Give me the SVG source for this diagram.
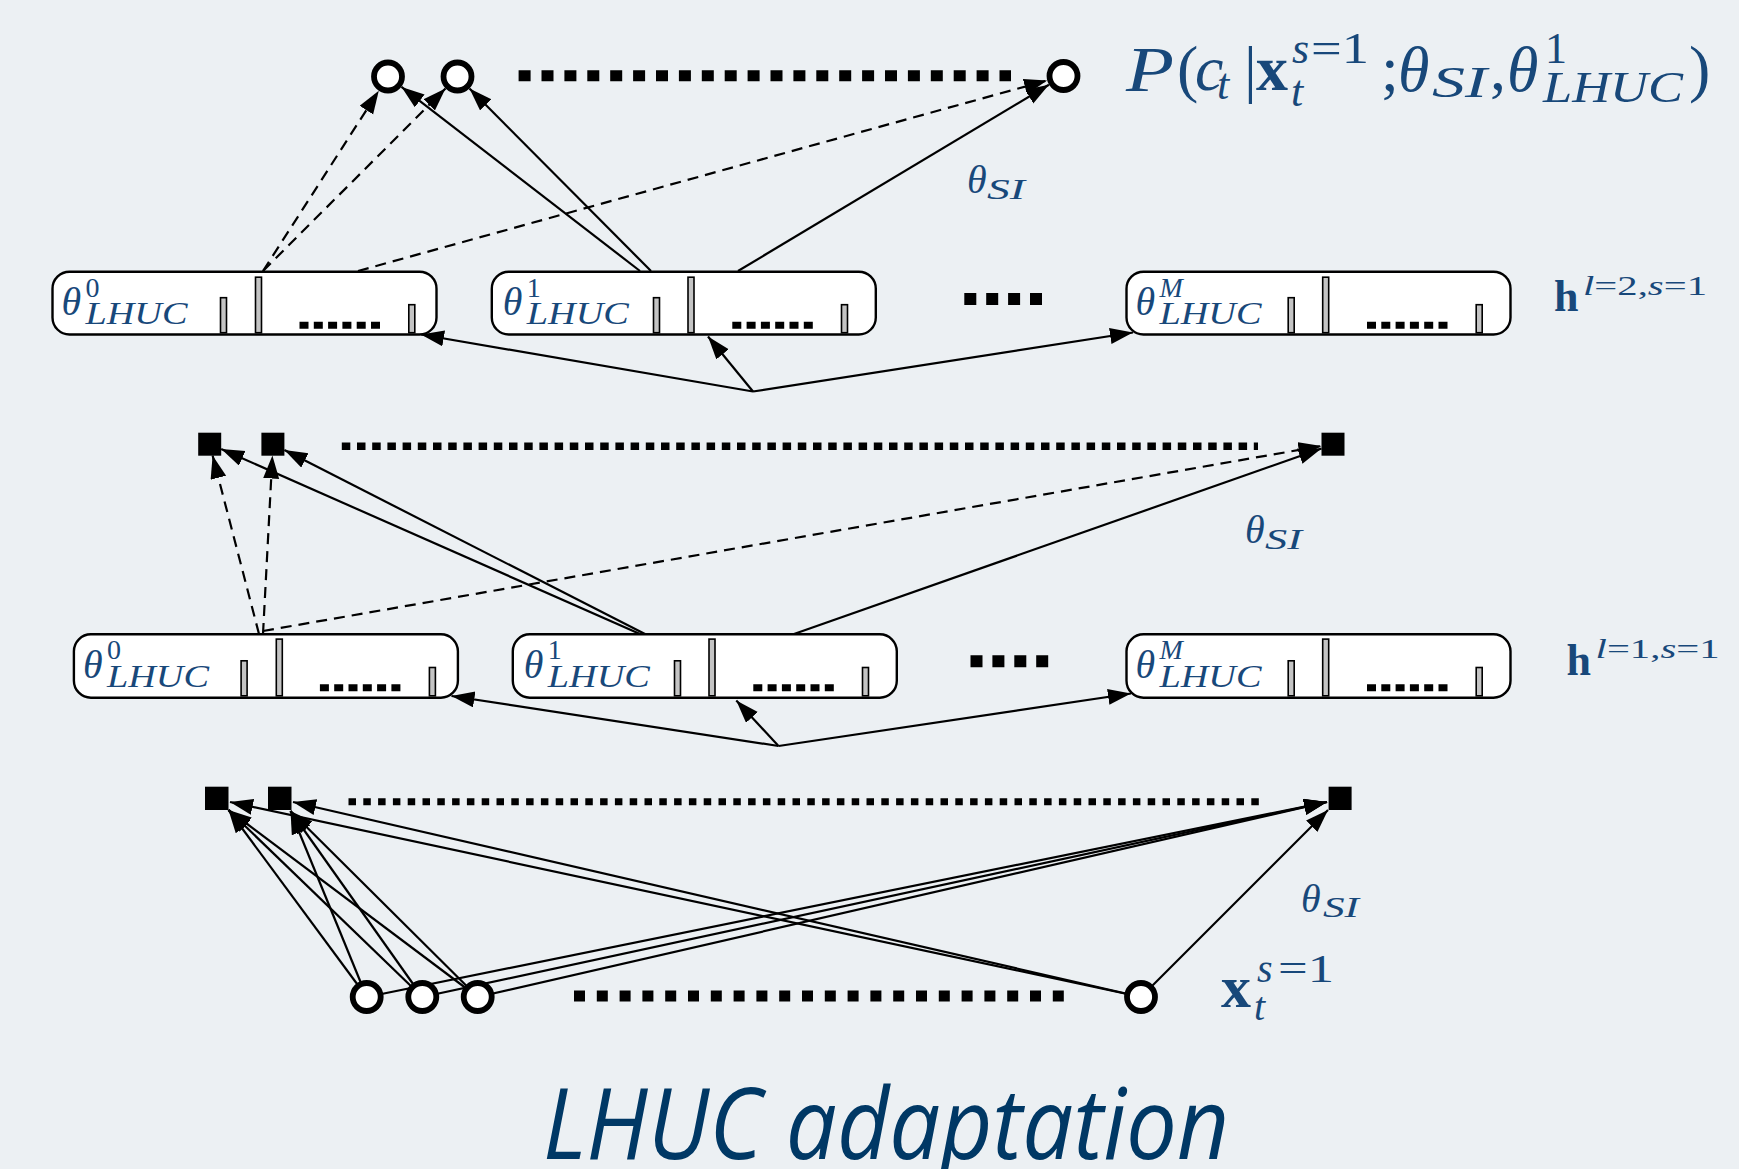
<svg xmlns="http://www.w3.org/2000/svg" width="1739" height="1169" viewBox="0 0 1739 1169">
<style>
.bg{fill:#ecf0f3}
.ln{stroke:#000;stroke-width:2.2;fill:none;marker-end:url(#ah)}
.dash{stroke-dasharray:11 7}
.circ{fill:#fff;stroke:#000;stroke-width:5.8}
.sq{fill:#000}
.box{fill:#fff;stroke:#000;stroke-width:2.4}
.bar{fill:#c4c4c4;stroke:#000;stroke-width:1.6}
.dots{stroke:#000;fill:none}
.m{font-family:"Liberation Serif","DejaVu Serif",serif;fill:#18487a}
.it{font-style:italic}
.up{font-style:normal}
.bf{font-weight:bold}
.title{font-family:"Open Sans","Liberation Sans",sans-serif;font-style:italic;fill:#003865}
</style>
<defs>
<marker id="ah" markerUnits="userSpaceOnUse" markerWidth="26" markerHeight="18" refX="23" refY="8" orient="auto"><path d="M0,0 L23,8 L0,16 z" fill="#000"/></marker>
</defs>
<rect class="bg" x="0" y="0" width="1739" height="1169"/>

<g id="connectors">
<line class="ln dash" x1="263" y1="271" x2="378.8" y2="90.8"/>
<line class="ln dash" x1="263" y1="271" x2="445.5" y2="88.5"/>
<line class="ln dash" x1="358" y1="271" x2="1047.1" y2="80.5"/>
<line class="ln" x1="640" y1="271" x2="401.5" y2="86.9"/>
<line class="ln" x1="651" y1="271" x2="469.5" y2="88.5"/>
<line class="ln" x1="738" y1="271" x2="1048.9" y2="84.7"/>
<line class="ln" x1="753" y1="391.5" x2="421" y2="334.5"/>
<line class="ln" x1="753" y1="391.5" x2="708" y2="336.5"/>
<line class="ln" x1="753" y1="391.5" x2="1133" y2="332.5"/>
<line class="ln dash" x1="259" y1="634" x2="212.6" y2="455.5"/>
<line class="ln dash" x1="263" y1="634" x2="272.4" y2="455.5"/>
<line class="ln dash" x1="263" y1="631" x2="1321.5" y2="446"/>
<line class="ln" x1="640" y1="634" x2="221.2" y2="449"/>
<line class="ln" x1="645" y1="634" x2="284.4" y2="450"/>
<line class="ln" x1="794" y1="634" x2="1321.5" y2="448.5"/>
<line class="ln" x1="778.5" y1="746" x2="451.5" y2="696"/>
<line class="ln" x1="778.5" y1="746" x2="736.3" y2="700.5"/>
<line class="ln" x1="778.5" y1="746" x2="1131" y2="693.5"/>
<line class="ln" x1="366.7" y1="997" x2="228.5" y2="810"/>
<line class="ln" x1="422.3" y1="997" x2="228.5" y2="810"/>
<line class="ln" x1="477.7" y1="997" x2="228.5" y2="810"/>
<line class="ln" x1="366.7" y1="997" x2="290.5" y2="811"/>
<line class="ln" x1="422.3" y1="997" x2="290.5" y2="811"/>
<line class="ln" x1="477.7" y1="997" x2="290.5" y2="811"/>
<line class="ln" x1="366.7" y1="997" x2="1327" y2="802"/>
<line class="ln" x1="422.3" y1="997" x2="1327" y2="802"/>
<line class="ln" x1="477.7" y1="997" x2="1327" y2="802"/>
<line class="ln" x1="1141" y1="997" x2="230" y2="802"/>
<line class="ln" x1="1141" y1="997" x2="293" y2="802"/>
<line class="ln" x1="1141" y1="997" x2="1328" y2="810"/>
</g>

<g id="output-layer">
<circle class="circ" cx="388" cy="76.5" r="14"/>
<circle class="circ" cx="457.5" cy="76.5" r="14"/>
<line class="dots" x1="518.6" y1="75.7" x2="1011" y2="75.7" stroke-width="11" stroke-dasharray="12 10.9"/>
<circle class="circ" cx="1063.5" cy="76" r="14"/>
</g>
<g id="output-label">
<text class="m" font-size="64">
<tspan class="it" x="1126" y="91" textLength="48" lengthAdjust="spacingAndGlyphs">P</tspan><tspan x="1177" y="90">(</tspan><tspan class="it" x="1195" y="90">c</tspan><tspan class="it" x="1217" y="99" font-size="44">t</tspan><tspan x="1244" y="90">|</tspan><tspan class="bf" x="1256" y="90">x</tspan><tspan class="it" x="1292" y="63" font-size="44">s</tspan><tspan x="1311" y="63" font-size="44" textLength="58" lengthAdjust="spacingAndGlyphs">=1</tspan><tspan class="it" x="1291" y="106" font-size="44">t</tspan><tspan x="1381" y="90">;</tspan><tspan class="it" x="1398" y="91">θ</tspan><tspan class="it" x="1432" y="97" font-size="44" textLength="55" lengthAdjust="spacingAndGlyphs">SI</tspan><tspan x="1490" y="90">,</tspan><tspan class="it" x="1507" y="91">θ</tspan><tspan x="1545" y="63" font-size="44">1</tspan><tspan class="it" x="1543" y="101.7" font-size="44" textLength="140" lengthAdjust="spacingAndGlyphs">LHUC</tspan><tspan x="1689" y="90">)</tspan>
</text>
</g>
<g id="theta-si-2"><text class="m it" font-size="40"><tspan x="967" y="193">θ</tspan><tspan x="987" y="199" font-size="30" textLength="38" lengthAdjust="spacingAndGlyphs">SI</tspan></text></g>

<g id="h2-box0" transform="translate(52.5,271.7)">
<rect class="box" x="0" y="0" width="384" height="62.8" rx="17"/>
<rect class="bar" x="168" y="26" width="6" height="35"/>
<rect class="bar" x="203" y="5.5" width="6" height="55.5"/>
<rect class="bar" x="356.3" y="33" width="6" height="28"/>
<line class="dots" x1="247" y1="53.5" x2="328" y2="53.5" stroke-width="7" stroke-dasharray="9 5.3"/>
<text class="m it" font-size="40"><tspan x="9" y="43.3">θ</tspan><tspan class="up" x="33" y="25" font-size="28">0</tspan><tspan x="33" y="52.6" font-size="31" textLength="102" lengthAdjust="spacingAndGlyphs">LHUC</tspan></text>
</g>
<g id="h2-box1" transform="translate(491.8,271.7)">
<rect class="box" x="0" y="0" width="384" height="62.8" rx="17"/>
<rect class="bar" x="161.7" y="26" width="6" height="35"/>
<rect class="bar" x="196.2" y="5.5" width="6" height="55.5"/>
<rect class="bar" x="349.7" y="33" width="6" height="28"/>
<line class="dots" x1="240.5" y1="53.5" x2="321.5" y2="53.5" stroke-width="7" stroke-dasharray="9 5.3"/>
<text class="m it" font-size="40"><tspan x="11" y="43.3">θ</tspan><tspan class="up" x="35" y="25" font-size="28">1</tspan><tspan x="35" y="52.6" font-size="31" textLength="102" lengthAdjust="spacingAndGlyphs">LHUC</tspan></text>
</g>
<g id="h2-gap"><line class="dots" x1="964.3" y1="299" x2="1042" y2="299" stroke-width="12" stroke-dasharray="12 9.9"/></g>
<g id="h2-boxM" transform="translate(1126.5,271.7)">
<rect class="box" x="0" y="0" width="384" height="62.8" rx="17"/>
<rect class="bar" x="161.7" y="26" width="6" height="35"/>
<rect class="bar" x="196.2" y="5.5" width="6" height="55.5"/>
<rect class="bar" x="349.7" y="33" width="6" height="28"/>
<line class="dots" x1="240.5" y1="53.5" x2="321.5" y2="53.5" stroke-width="7" stroke-dasharray="9 5.3"/>
<text class="m it" font-size="40"><tspan x="9" y="43.3">θ</tspan><tspan x="33" y="25" font-size="28">M</tspan><tspan x="33" y="52.6" font-size="31" textLength="102" lengthAdjust="spacingAndGlyphs">LHUC</tspan></text>
</g>
<g id="h2-label"><text class="m" font-size="44"><tspan class="bf" x="1554" y="311">h</tspan><tspan font-size="28" y="295" x="1583" textLength="124" lengthAdjust="spacingAndGlyphs"><tspan class="it">l</tspan>=2,<tspan class="it">s</tspan>=1</tspan></text></g>

<g id="h1-units">
<rect class="sq" x="198.2" y="432.7" width="23" height="23"/>
<rect class="sq" x="261.4" y="432.7" width="23" height="23"/>
<line class="dots" x1="341.8" y1="446.3" x2="1258" y2="446.3" stroke-width="7.5" stroke-dasharray="8.5 6.7"/>
<rect class="sq" x="1321.5" y="432.7" width="23" height="23"/>
</g>
<g id="theta-si-1"><text class="m it" font-size="40"><tspan x="1245" y="543">θ</tspan><tspan x="1265" y="549" font-size="30" textLength="37" lengthAdjust="spacingAndGlyphs">SI</tspan></text></g>

<g id="h1-box0" transform="translate(73.9,634.3)">
<rect class="box" x="0" y="0" width="384" height="63.4" rx="17"/>
<rect class="bar" x="167.2" y="26.5" width="6" height="35"/>
<rect class="bar" x="202.4" y="4.8" width="6" height="56.7"/>
<rect class="bar" x="355.5" y="33.2" width="6" height="28.3"/>
<line class="dots" x1="246" y1="53.5" x2="327" y2="53.5" stroke-width="7" stroke-dasharray="9 5.3"/>
<text class="m it" font-size="40"><tspan x="9" y="43.3">θ</tspan><tspan class="up" x="33" y="25" font-size="28">0</tspan><tspan x="33" y="52.6" font-size="31" textLength="102" lengthAdjust="spacingAndGlyphs">LHUC</tspan></text>
</g>
<g id="h1-box1" transform="translate(512.8,634.3)">
<rect class="box" x="0" y="0" width="384" height="63.4" rx="17"/>
<rect class="bar" x="161.7" y="26.5" width="6" height="35"/>
<rect class="bar" x="196.2" y="4.8" width="6" height="56.7"/>
<rect class="bar" x="349.7" y="33.2" width="6" height="28.3"/>
<line class="dots" x1="240.5" y1="53.5" x2="321.5" y2="53.5" stroke-width="7" stroke-dasharray="9 5.3"/>
<text class="m it" font-size="40"><tspan x="11" y="43.3">θ</tspan><tspan class="up" x="35" y="25" font-size="28">1</tspan><tspan x="35" y="52.6" font-size="31" textLength="102" lengthAdjust="spacingAndGlyphs">LHUC</tspan></text>
</g>
<g id="h1-gap"><line class="dots" x1="970.5" y1="661.3" x2="1048.7" y2="661.3" stroke-width="12" stroke-dasharray="12 9.9"/></g>
<g id="h1-boxM" transform="translate(1126.5,634.3)">
<rect class="box" x="0" y="0" width="384" height="63.4" rx="17"/>
<rect class="bar" x="161.7" y="26.5" width="6" height="35"/>
<rect class="bar" x="196.2" y="4.8" width="6" height="56.7"/>
<rect class="bar" x="349.7" y="33.2" width="6" height="28.3"/>
<line class="dots" x1="240.5" y1="53.5" x2="321.5" y2="53.5" stroke-width="7" stroke-dasharray="9 5.3"/>
<text class="m it" font-size="40"><tspan x="9" y="43.3">θ</tspan><tspan x="33" y="25" font-size="28">M</tspan><tspan x="33" y="52.6" font-size="31" textLength="102" lengthAdjust="spacingAndGlyphs">LHUC</tspan></text>
</g>
<g id="h1-label"><text class="m" font-size="44"><tspan class="bf" x="1566.6" y="675">h</tspan><tspan font-size="28" y="658" x="1595.6" textLength="124" lengthAdjust="spacingAndGlyphs"><tspan class="it">l</tspan>=1,<tspan class="it">s</tspan>=1</tspan></text></g>

<g id="h0-units">
<rect class="sq" x="205" y="786.7" width="23.5" height="23.3"/>
<rect class="sq" x="268" y="786.7" width="23.5" height="23.3"/>
<line class="dots" x1="348.5" y1="801.7" x2="1265" y2="801.7" stroke-width="7" stroke-dasharray="7.5 7.3"/>
<rect class="sq" x="1328.6" y="786.7" width="23" height="23.3"/>
</g>
<g id="theta-si-0"><text class="m it" font-size="40"><tspan x="1301" y="911.5">θ</tspan><tspan x="1323" y="917" font-size="30" textLength="36" lengthAdjust="spacingAndGlyphs">SI</tspan></text></g>

<g id="input-layer">
<circle class="circ" cx="366.7" cy="997" r="14"/>
<circle class="circ" cx="422.3" cy="997" r="14"/>
<circle class="circ" cx="477.7" cy="997" r="14"/>
<line class="dots" x1="574" y1="996" x2="1066" y2="996" stroke-width="11" stroke-dasharray="11 11.8"/>
<circle class="circ" cx="1141" cy="997" r="14"/>
</g>
<g id="input-label"><text class="m" font-size="60"><tspan class="bf" x="1221" y="1006.5">x</tspan><tspan class="it" x="1254" y="1020" font-size="40">t</tspan><tspan class="it" x="1257" y="981.7" font-size="40">s</tspan><tspan x="1278" y="981.7" font-size="40" textLength="56" lengthAdjust="spacingAndGlyphs">=1</tspan></text></g>

<g id="title"><text class="title" x="543" y="1159" font-size="98" textLength="686" lengthAdjust="spacingAndGlyphs">LHUC adaptation</text></g>
</svg>
